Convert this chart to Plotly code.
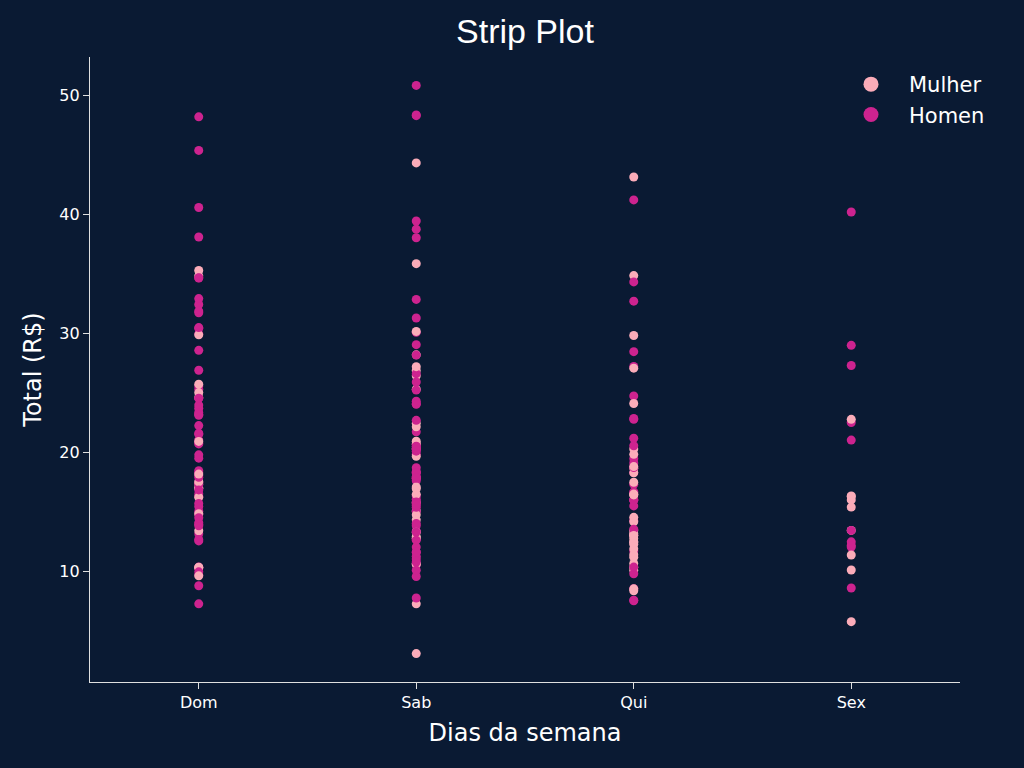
import plotly.graph_objects as go

# ---- data (row order matters: later rows drawn on top) ----
dias = ["Dom", "Sab", "Qui", "Sex"]

dom_total = [16.99, 10.34, 21.01, 23.68, 24.59, 25.29, 8.77, 26.88, 15.04, 14.78, 10.27, 35.26, 15.42, 18.43, 14.83, 21.58, 10.33, 16.29, 16.97,
             17.46, 13.94, 9.68, 30.40, 18.29, 22.23, 32.40, 28.55, 18.04, 12.54, 10.29, 34.81, 9.94, 25.56, 19.49,
             38.07, 23.95, 25.71, 17.31, 29.93,
             14.07, 13.13, 17.26, 24.55, 19.77, 29.85, 48.17, 25.00, 13.39, 16.49, 21.50, 12.66, 16.21, 13.81, 17.51, 24.52, 20.76, 31.71,
             7.25, 31.85, 16.82, 32.90, 17.89, 14.48, 9.60, 34.63, 34.65, 23.33, 45.35, 23.17, 40.55, 20.69, 20.90, 30.46, 18.15, 23.10, 15.69]
dom_sexo = ("FMMMFMMMMMMFMMFMFMF"
            "MMMMMMMMMMFFMMM"
            "MMFFM"
            "MMMMMFMFFMMMFMFMMM"
            "MMMMMMFMMMMMMMFMFMM")

sab_total = [20.65, 17.92, 20.29, 15.77, 39.42, 19.82, 17.81, 13.37, 12.69, 21.70, 19.65, 9.55, 18.35, 15.06, 20.69, 17.78, 24.06, 16.31, 16.93, 18.69, 31.27, 16.04,
             38.01, 26.41, 11.24, 48.27, 20.29, 13.81, 11.02, 18.29, 17.59, 20.08, 16.45, 3.07, 20.23, 15.01, 12.02, 17.07, 26.86, 25.28, 14.73, 10.51, 17.92,
             44.30, 22.42, 20.92, 15.36, 20.49, 25.21, 18.24, 14.31, 14.00, 7.25,
             10.59, 10.63, 50.81, 15.81,
             26.59, 38.73, 24.27, 12.76, 30.06, 25.89, 48.33, 13.27, 28.17, 12.90, 28.15, 11.59, 7.74, 30.14,
             20.45, 13.28, 22.12, 24.01, 15.69, 11.61, 10.77, 15.53, 10.07, 12.60, 32.83, 35.83, 29.03, 27.18, 22.67, 17.82]
sab_sexo = ("MMFFMMMMMMFMMFFMMMFMMM"
            "MFMMMMMMMMFFMMMFFFFMM"
            "FFFMMMMFMF"
            "FFMM"
            "MMMFMMMFFFMMMF"
            "MMFMMMMMMMMFMFMM")

qui_total = [27.20, 22.76, 17.29, 19.44, 16.66, 10.07, 32.68, 15.98, 34.83, 13.03, 18.28, 24.71, 21.16,
             10.65, 12.43, 24.08, 11.69, 13.42, 14.26, 15.95, 12.48, 29.80, 8.52, 14.52, 11.38, 22.82, 19.08, 20.27, 11.17, 12.26, 18.26, 8.51, 10.33,
             14.15, 16.00, 13.16, 17.47, 34.30, 41.19, 27.05, 16.43, 8.35, 18.64, 11.87, 9.78, 7.51,
             19.81, 28.44, 15.48, 16.58, 7.56, 10.34, 43.11, 13.00, 13.51, 18.71, 12.74, 13.00, 16.40, 20.53, 16.47,
             18.78]
qui_sexo = ("MMMMMFMMFMMMM"
            "FFFMFMMFFMFFMMFFFFFF"
            "FMFFMMFFFFFMM"
            "FMMMMMFFMMFFFMF"
            "F")

sex_total = [28.97, 22.49, 5.75, 16.32, 22.75, 40.17, 27.28, 12.03, 21.01, 12.46, 11.35, 15.38,
             12.16, 13.42, 8.58, 15.98, 13.42, 16.27, 10.09]
sex_sexo = ("MMFFFMMMMMFF"
            "MFMFMFF")

series = [("Dom", dom_total, dom_sexo), ("Sab", sab_total, sab_sexo),
          ("Qui", qui_total, qui_sexo), ("Sex", sex_total, sex_sexo)]

legend_labels = ["Mulher", "Homen"]
cores = {"F": "#fbacb9", "M": "#cd238f"}

BG = "#0a1a33"

fig = go.Figure()
for dia, tot, sx in series:
    fig.add_trace(go.Scatter(
        x=[dia] * len(tot), y=tot, mode="markers",
        marker=dict(size=9, color=[cores[s] for s in sx], line=dict(width=0)),
        showlegend=False, hoverinfo="x+y"))

for lab, key in zip(legend_labels, ["F", "M"]):
    fig.add_trace(go.Scatter(
        x=[None], y=[None], mode="markers", name=lab,
        marker=dict(size=15, color=cores[key], line=dict(width=0))))

fig.update_layout(
    width=1024, height=768,
    paper_bgcolor=BG, plot_bgcolor=BG,
    margin=dict(l=90, r=64, t=57, b=86),
    title=dict(text="Strip Plot", x=0.5, xref="paper", xanchor="center",
               y=(768 - 31) / 768, yref="container", yanchor="middle",
               font=dict(family="Liberation Sans, Arial", size=34, color="white")),
    xaxis=dict(type="category", categoryorder="array", categoryarray=dias,
               range=[-0.5, 3.5], showgrid=False, zeroline=False,
               showline=True, linecolor="#e0e0e0", linewidth=1.2,
               ticks="outside", ticklen=6, tickwidth=1.2, tickcolor="#e0e0e0",
               tickfont=dict(family="DejaVu Sans", size=16, color="white"),
               title=dict(text="Dias da semana", standoff=12,
                          font=dict(family="Comic Sans MS, DejaVu Sans", size=24, color="white"))),
    yaxis=dict(range=[0.683, 53.197], showgrid=False, zeroline=False,
               showline=True, linecolor="#e0e0e0", linewidth=1.2,
               tickvals=[10, 20, 30, 40, 50],
               ticks="outside", ticklen=6, tickwidth=1.2, tickcolor="#e0e0e0",
               tickfont=dict(family="DejaVu Sans", size=16, color="white"),
               title=dict(text="Total (R$)", standoff=10,
                          font=dict(family="Comic Sans MS, DejaVu Sans", size=24, color="white"))),
    legend=dict(x=(833 - 90) / 870, y=1 - (64 - 57) / 625, xanchor="left", yanchor="top",
                bgcolor="rgba(0,0,0,0)", itemwidth=66,
                font=dict(family="DejaVu Sans", size=21, color="white")),
)

fig.write_html("out.html")
